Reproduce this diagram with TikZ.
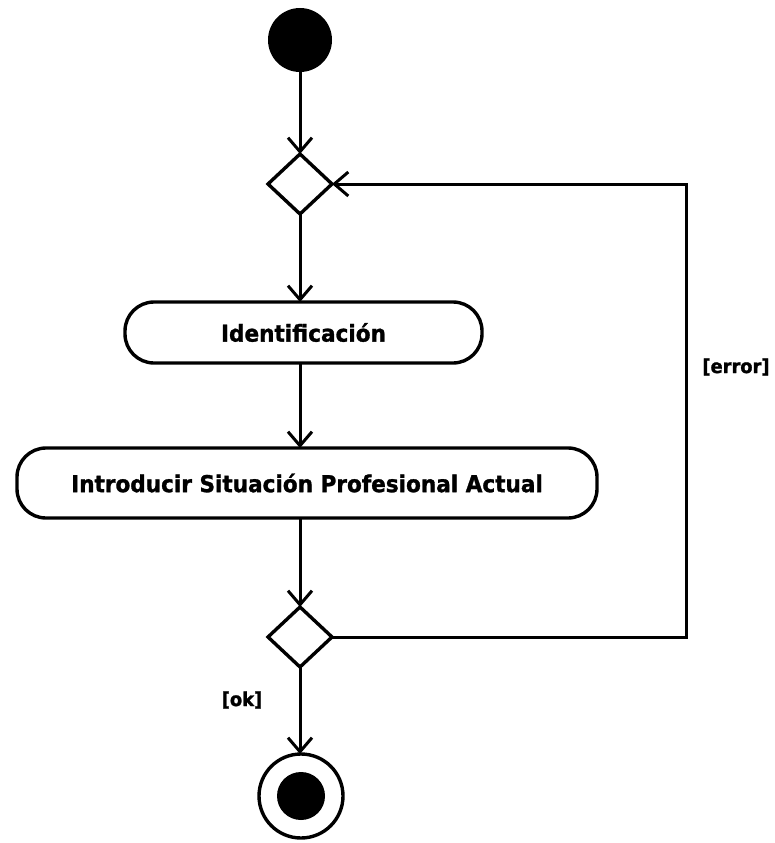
\documentclass[tikz,border=0pt]{standalone}
\usepackage{fontspec}
\setmainfont{DejaVu Sans}
\newfontfamily\heavyfont[FakeBold=1.3,FakeStretch=0.93]{DejaVu Sans Bold}
\usetikzlibrary{shapes.geometric,arrows.meta}
\begin{document}
\begin{tikzpicture}[x=1pt,y=-1pt,
  every node/.style={inner sep=0pt,outer sep=0pt},
  conn/.style={line width=3pt,-{Straight Barb[length=14pt,width=24pt]}},
  decision/.style={diamond,draw,line width=3.4pt,minimum width=64pt,minimum height=60pt},
  actionbox/.style={rectangle,draw,line width=3.4pt,rounded corners=29pt,font=\heavyfont\fontsize{23.2}{27}\selectfont},
  guard/.style={font=\heavyfont\fontsize{19.2}{23}\selectfont}]
\useasboundingbox (0,0) rectangle (775,843);
\node[circle,fill=black,minimum size=64pt] (start) at (300,40) {};
\node[decision] (d1) at (300,184) {};
\node[actionbox,minimum width=357pt,minimum height=61pt] (id) at (303.5,332.5) {Identificación};
\node[actionbox,minimum width=580pt,minimum height=70pt] (intro) at (307,483) {Introducir Situación Profesional Actual};
\node[decision] (d2) at (300,637) {};
\node[circle,draw,line width=3.4pt,minimum size=84pt] (end) at (301,796) {};
\node[circle,fill=black,minimum size=48pt] (endin) at (end.center) {};
\coordinate (c1) at (686,637);
\coordinate (c2) at (686,184);
\draw[conn] (start) -- (d1.north);
\draw[conn] (d1.south) -- (d1.south |- id.north);
\draw[conn] (d1.south |- id.south) -- (d1.south |- intro.north);
\draw[conn] (d2.north |- intro.south) -- (d2.north);
\draw[conn] (d2.south) -- (d2.south |- end.north);
\draw[conn,line join=miter] (d2.east) -- (c1) -- (c2) -- (d1.east);
\node[guard] (err) at (736,367) {[error]};
\node[guard] (ok) at (242,700) {[ok]};
\end{tikzpicture}
\end{document}
